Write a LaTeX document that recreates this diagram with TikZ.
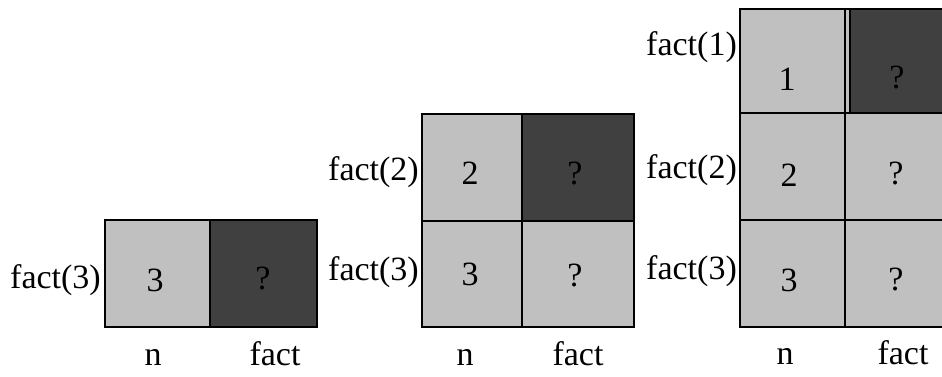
\documentclass[tikz,border=0pt]{standalone}
\usepackage{fontspec}
\setmainfont{Liberation Serif}
\definecolor{lgray}{HTML}{C0C0C0}
\definecolor{dgray}{HTML}{404040}
\begin{document}
\begin{tikzpicture}[x=1pt,y=-1pt,
  cellbox/.style={draw=black, line width=1.6pt, inner sep=0pt, outer sep=0pt, anchor=north west},
  light/.style={cellbox, fill=lgray},
  dark/.style={cellbox, fill=dgray},
  txt/.style={inner sep=0pt, anchor=base, font=\fontsize{34}{40}\selectfont},
  lbl/.style={inner sep=0pt, anchor=base east, font=\fontsize{34}{40}\selectfont}]
\useasboundingbox (0,0) rectangle (942,376);
% stack 1
\node[light, minimum width=105pt, minimum height=107pt] (s1n) at (105,220) {};
\node[dark, minimum width=107pt, minimum height=107pt] (s1f) at (210,220) {};
\node[lbl] (s1l3) at (101,288) {fact(3)};
\node[txt] (s1t3) at (155,291) {3};
\node[txt] (s1q3) at (263,289) {?};
\node[txt] (s1bn) at (153,365) {n};
\node[txt] (s1bf) at (275,365) {fact};
% stack 2
\node[light, minimum width=100pt, minimum height=107pt] (s2n2) at (422,114) {};
\node[dark, minimum width=112pt, minimum height=107pt] (s2f2) at (522,114) {};
\node[light, minimum width=100pt, minimum height=106pt] (s2n3) at (422,221) {};
\node[light, minimum width=112pt, minimum height=106pt] (s2f3) at (522,221) {};
\node[lbl] (s2l2) at (419,180) {fact(2)};
\node[lbl] (s2l3) at (419,280) {fact(3)};
\node[txt] (s2t2) at (470,184) {2};
\node[txt] (s2q2) at (575,184) {?};
\node[txt] (s2t3) at (470,285) {3};
\node[txt] (s2q3) at (575,286) {?};
\node[txt] (s2bn) at (465,365) {n};
\node[txt] (s2bf) at (578,365) {fact};
% stack 3
\node[light, minimum width=105pt, minimum height=104pt] (s3n1) at (740,9) {};
\node[light, minimum width=98pt, minimum height=104pt] (s3f1b) at (845,9) {};
\node[dark, minimum width=93pt, minimum height=104pt] (s3f1) at (850,9) {};
\node[light, minimum width=105pt, minimum height=107pt] (s3n2) at (740,113) {};
\node[light, minimum width=98pt, minimum height=107pt] (s3f2) at (845,113) {};
\node[light, minimum width=105pt, minimum height=107pt] (s3n3) at (740,220) {};
\node[light, minimum width=98pt, minimum height=107pt] (s3f3) at (845,220) {};
\node[lbl] (s3l1) at (737,55) {fact(1)};
\node[txt] (s3t1) at (787,90) {1};
\node[txt] (s3q1) at (897,88) {?};
\node[lbl] (s3l2) at (737,178) {fact(2)};
\node[txt] (s3t2) at (789,186) {2};
\node[txt] (s3q2) at (896,184) {?};
\node[lbl] (s3l3) at (737,279) {fact(3)};
\node[txt] (s3t3) at (789,291) {3};
\node[txt] (s3q3) at (896,290) {?};
\node[txt] (s3bn) at (785,364) {n};
\node[txt] (s3bf) at (903,364) {fact};
\end{tikzpicture}
\end{document}
